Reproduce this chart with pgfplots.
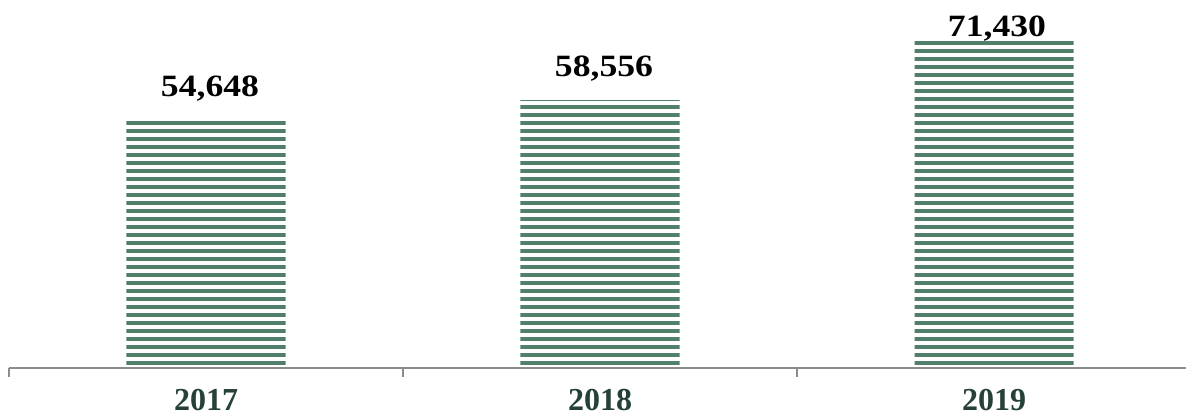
\documentclass[border=0pt]{standalone}
\usepackage{pgfplots}
\pgfplotsset{compat=1.18}
\usepackage{fontspec}
\setmainfont{Liberation Serif}
\newfontfamily\vallab{Liberation Serif}[FakeStretch=1.15]
\usetikzlibrary{patterns.meta}
\definecolor{barg}{HTML}{50806A}
\definecolor{yearc}{HTML}{26403A}
\definecolor{axg}{HTML}{8C8C8C}
\begin{document}
\begin{tikzpicture}
\begin{axis}[
  at={(9bp,51bp)}, anchor=south west,
  scale only axis, width=1182bp, height=366.1bp,
  xmin=-0.5, xmax=2.5, ymin=0, ymax=80000,
  axis y line=none, axis x line*=bottom,
  x axis line style={draw=axg, line width=1.3bp, -},
  xtick={0,1,2}, xticklabels={2017,2018,2019},
  major tick length=0pt,
  extra x ticks={-0.5,0.5,1.5,2.5}, extra x tick labels={},
  extra x tick style={major tick length=9bp, xtick align=outside, tick style={draw=axg, line width=1.3bp}},
  xticklabel style={font=\fontsize{32bp}{37bp}\selectfont\bfseries, text=yearc, anchor=north, inner sep=0pt, yshift=-21bp},
  ytick=\empty,
  clip=false,
]
\addplot[ybar, bar width=0.4036, draw=none, pattern={Lines[angle=0,distance=8bp,line width=3.8bp]}, pattern color=barg]
  coordinates {(0,54648) (1,58556) (2,71430)};
\begin{scope}[every node/.style={anchor=base, inner sep=0pt, font=\vallab\fontsize{31bp}{36bp}\selectfont\bfseries}]
\node[xshift=4bp, yshift=21bp] at (axis cs:0,54648) {54,648};
\node[xshift=4bp, yshift=24bp] at (axis cs:1,58556) {58,556};
\node[xshift=3bp, yshift=5bp] at (axis cs:2,71430) {71,430};
\end{scope}
\end{axis}
\pgfresetboundingbox
\useasboundingbox (0,0) rectangle (1186bp,419bp);
\end{tikzpicture}
\end{document}
